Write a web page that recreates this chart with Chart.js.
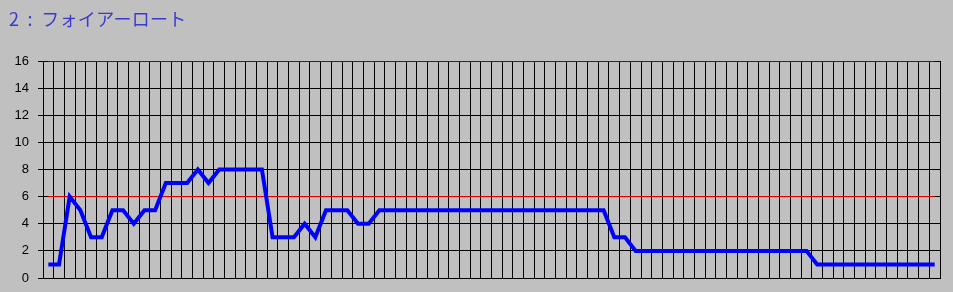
<!DOCTYPE html>
<html>
<head>
<meta charset="utf-8">
<script src="https://cdn.jsdelivr.net/npm/chart.js@4/dist/chart.umd.min.js"></script>
<style>
  html, body { margin: 0; padding: 0; background: #c0c0c0; }
  #wrap { position: relative; width: 953px; height: 292px; background: #c0c0c0; }
  #title { position: absolute; left: 9px; top: 8px; font-family: "Noto Sans CJK JP", "Noto Sans", sans-serif; font-size: 18px; line-height: 20px; color: #3a3acc; word-spacing: 4px; letter-spacing: 0.3px; white-space: pre; }
  canvas { position: absolute; left: 0; top: 0; }
</style>
</head>
<body>
<div id="wrap">
  <canvas id="c" width="953" height="292"></canvas>
  <div id="title">2 : フォイアーロート</div>
</div>
<script>
const categories = ["1","2","3","4","5","6","7","8","9","10","11","12","13","14","15","16","17","18","19","20",
  "21","22","23","24","25","26","27","28","29","30","31","32","33","34","35","36","37","38","39","40",
  "41","42","43","44","45","46","47","48","49","50","51","52","53","54","55","56","57","58","59","60",
  "61","62","63","64","65","66","67","68","69","70","71","72","73","74","75","76","77","78","79","80",
  "81","82","83","84"];

const seriesValues = [1,1,6,5,3,3,5,5,4,5,5,7,7,7,8,7,8,8,8,8,
  8,3,3,3,4,3,5,5,5,4,4,5,5,5,5,5,5,5,5,5,
  5,5,5,5,5,5,5,5,5,5,5,5,5,3,3,2,2,2,2,2,
  2,2,2,2,2,2,2,2,2,2,2,2,1,1,1,1,1,1,1,1,
  1,1,1,1];

const thresholdValue = 6;
const topValue = 16;
const yTicks = [0, 2, 4, 6, 8, 10, 12, 14, 16];

const firstCat = categories[0];
const lastCat = categories[categories.length - 1];

new Chart(document.getElementById('c'), {
  type: 'line',
  data: {
    labels: categories,
    datasets: [
      { data: seriesValues, borderColor: '#0000ff', borderWidth: 4, pointRadius: 0, tension: 0, order: 0 },
      { data: [{x: firstCat, y: thresholdValue}, {x: lastCat, y: thresholdValue}], borderColor: '#ff0000', borderWidth: 1, pointRadius: 0, order: 1 },
      { data: [{x: firstCat, y: topValue}, {x: lastCat, y: topValue}], borderColor: '#2020ff', borderWidth: 1.5, pointRadius: 0, order: 1 }
    ]
  },
  options: {
    responsive: false,
    animation: false,
    devicePixelRatio: 1,
    layout: { padding: { left: 0, right: 13, top: 61, bottom: 14 } },
    plugins: { legend: { display: false }, title: { display: false }, tooltip: { enabled: false } },
    scales: {
      x: {
        type: 'category',
        offset: true,
        ticks: { display: false },
        grid: { offset: true, color: '#000000', lineWidth: 1, drawTicks: false },
        border: { display: true, color: '#000000' },
        afterFit: s => { s.height = 0; }
      },
      y: {
        min: 0,
        max: 16,
        afterBuildTicks: s => { s.ticks = yTicks.map(v => ({ value: v })); },
        ticks: { color: '#000000', padding: 9, font: { family: 'Liberation Sans, Arial, sans-serif', size: 13 } },
        grid: { color: '#000000', lineWidth: 1, tickLength: 5 },
        border: { display: true, color: '#000000' },
        afterFit: s => { s.width = 43; s.paddingTop = 0; s.paddingBottom = 0; }
      }
    }
  }
});
</script>
</body>
</html>
